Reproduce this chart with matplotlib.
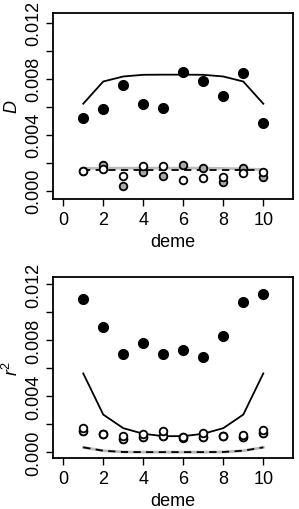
import matplotlib
matplotlib.use("Agg")
import matplotlib.pyplot as plt
import numpy as np

plt.rcParams['font.family'] = ['Liberation Sans', 'DejaVu Sans']
plt.rcParams['mathtext.fontset'] = 'custom'
plt.rcParams['mathtext.it'] = 'Liberation Sans:italic'
plt.rcParams['mathtext.rm'] = 'Liberation Sans'

deme = [1, 2, 3, 4, 5, 6, 7, 8, 9, 10]

# Panel D
D_black = [5.20e-3, 5.85e-3, 7.57e-3, 6.21e-3, 5.92e-3, 8.45e-3, 7.85e-3, 6.78e-3, 8.40e-3, 4.84e-3]
D_line = [6.21e-3, 7.80e-3, 8.16e-3, 8.28e-3, 8.29e-3, 8.29e-3, 8.28e-3, 8.16e-3, 7.80e-3, 6.21e-3]
D_gray_line = [1.58e-3, 1.60e-3, 1.60e-3, 1.60e-3, 1.60e-3, 1.60e-3, 1.60e-3, 1.58e-3, 1.55e-3, 1.50e-3]
D_dash = [1.45e-3, 1.45e-3, 1.45e-3, 1.45e-3, 1.45e-3, 1.45e-3, 1.45e-3, 1.45e-3, 1.45e-3, 1.45e-3]
D_gray = [1.40e-3, 1.86e-3, 0.31e-3, 1.36e-3, 1.03e-3, 1.84e-3, 1.58e-3, 0.60e-3, 1.62e-3, 1.00e-3]
D_open = [1.43e-3, 1.55e-3, 1.03e-3, 1.72e-3, 1.79e-3, 0.72e-3, 0.88e-3, 1.00e-3, 1.26e-3, 1.31e-3]

# Panel r^2
R_black = [10.98e-3, 8.92e-3, 7.04e-3, 7.83e-3, 7.04e-3, 7.30e-3, 6.81e-3, 8.30e-3, 10.74e-3, 11.29e-3]
R_line = [5.64e-3, 2.70e-3, 1.73e-3, 1.33e-3, 1.16e-3, 1.16e-3, 1.33e-3, 1.73e-3, 2.70e-3, 5.64e-3]
R_gray_line = [0.36e-3, 0.12e-3, 0.03e-3, 0.02e-3, 0.02e-3, 0.02e-3, 0.02e-3, 0.03e-3, 0.12e-3, 0.36e-3]
R_dash = [0.36e-3, 0.12e-3, 0.03e-3, 0.02e-3, 0.02e-3, 0.02e-3, 0.02e-3, 0.03e-3, 0.12e-3, 0.36e-3]
R_gray = [1.52e-3, 1.33e-3, 0.97e-3, 1.07e-3, 1.19e-3, 1.07e-3, 1.07e-3, 1.16e-3, 1.09e-3, 1.40e-3]
R_open1 = [1.75e-3, 1.33e-3, 1.19e-3, 1.33e-3, 1.52e-3, 1.07e-3, 1.38e-3, 1.16e-3, 1.26e-3, 1.57e-3]
R_open2 = [1.52e-3, 1.33e-3, 0.97e-3, 1.07e-3, 1.19e-3, 1.02e-3, 1.07e-3, 1.16e-3, 1.09e-3, 1.40e-3]

xticks = [0, 2, 4, 6, 8, 10]
yticks = [0.000, 0.002, 0.004, 0.006, 0.008, 0.010, 0.012]
ylabels = ["0.000", "", "0.004", "", "0.008", "", "0.012"]

FS = 13

fig = plt.figure(figsize=(2.99, 5.10), dpi=100)
ax1 = fig.add_axes([0.178, 0.608, 0.803, 0.3645])
ax2 = fig.add_axes([0.178, 0.100, 0.803, 0.3543])

def style(ax, ylim):
    ax.set_xlim(-0.5, 11.5)
    ax.set_ylim(*ylim)
    ax.set_xticks(xticks)
    ax.set_xticklabels([str(t) for t in xticks], fontsize=FS)
    ax.set_yticks(yticks)
    ax.set_yticklabels(ylabels, fontsize=FS, rotation=90, va='center')
    ax.tick_params(direction='out', length=5, width=1.0)
    ax.tick_params(axis='x', pad=4)
    ax.tick_params(axis='y', pad=3)
    for s in ax.spines.values():
        s.set_linewidth(1.3)
    ax.set_xlabel("deme", fontsize=FS, labelpad=3)

# top
ax1.plot(deme, D_gray_line, color='#bbbbbb', lw=2.0, zorder=1)
ax1.plot(deme, D_dash, color='black', lw=1.3, ls=(0, (4, 3)), zorder=2)
ax1.plot(deme, D_line, color='black', lw=1.3, zorder=2)
ax1.plot(deme, D_gray, 'o', ms=5.5, mfc='#aaaaaa', mec='black', mew=1.3, zorder=3)
ax1.plot(deme, D_open, 'o', ms=5.5, mfc='white', mec='black', mew=1.3, zorder=4)
ax1.plot(deme, D_black, 'o', ms=7, mfc='black', mec='black', zorder=5)
style(ax1, (-0.0006, 0.0127))
ax1.set_ylabel("$D$", fontsize=FS, labelpad=3)

# bottom
ax2.plot(deme, R_gray_line, color='#bbbbbb', lw=2.0, zorder=1)
ax2.plot(deme, R_dash, color='black', lw=1.3, ls=(0, (4, 3)), zorder=2)
ax2.plot(deme, R_line, color='black', lw=1.3, zorder=2)
ax2.plot(deme, R_gray, 'o', ms=5.5, mfc='#aaaaaa', mec='black', mew=1.3, zorder=3)
ax2.plot(deme, R_open2, 'o', ms=5.5, mfc='white', mec='black', mew=1.3, zorder=4)
ax2.plot(deme, R_open1, 'o', ms=5.5, mfc='white', mec='black', mew=1.3, zorder=4)
ax2.plot(deme, R_black, 'o', ms=7, mfc='black', mec='black', zorder=5)
style(ax2, (-0.0004, 0.0125))
ax2.set_ylabel("$r^2$", fontsize=FS, labelpad=2)

fig.savefig("out.png", dpi=100)
